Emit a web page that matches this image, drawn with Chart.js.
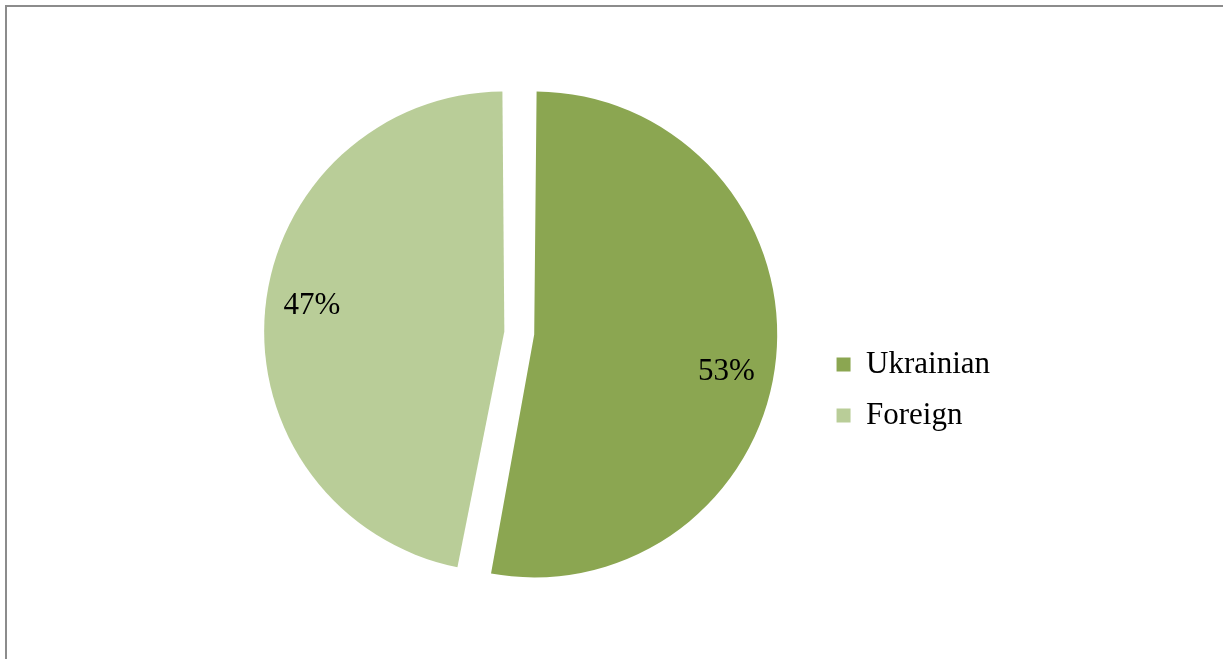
<!DOCTYPE html>
<html>
<head>
<meta charset="utf-8">
<title>Ukrainian vs Foreign</title>
<script src="https://cdn.jsdelivr.net/npm/chart.js@4/dist/chart.umd.min.js"></script>
<style>
    html, body { margin: 0; padding: 0; background: #fff; overflow: hidden; }
    #frame {
        position: absolute; left: 5px; top: 5px; width: 1400px; height: 800px;
        border-top: 2px solid #8c8c8c; border-left: 2px solid #8c8c8c;
    }
    #wrap { position: absolute; left: 0; top: 0; width: 1223px; height: 659px; }
</style>
</head>
<body>
<div id="frame"></div>
<div id="wrap"><canvas id="pieChart"></canvas></div>
<script>
const categories = ['Ukrainian', 'Foreign'];
const shares = [53, 47];
const sliceColors = ['#8ba651', '#b9cd98'];

Chart.defaults.font.family = '"Liberation Serif", "Times New Roman", serif';
Chart.defaults.color = '#000';

// percentage labels inside each slice, pushed a little clockwise like the office chart
const pctLabels = {
    id: 'pctLabels',
    afterDatasetsDraw(chart) {
        const { ctx } = chart;
        const total = shares.reduce((a, b) => a + b, 0);
        ctx.save();
        ctx.font = '31px "Liberation Serif", "Times New Roman", serif';
        ctx.fillStyle = '#000';
        ctx.textAlign = 'center';
        ctx.textBaseline = 'middle';
        chart.getDatasetMeta(0).data.forEach((arc, i) => {
            const { x, y, startAngle, endAngle, outerRadius } =
                arc.getProps(['x', 'y', 'startAngle', 'endAngle', 'outerRadius'], true);
            const half = (startAngle + endAngle) / 2;
            const shift = arc.options.offset / 4;
            const cx = x + Math.cos(half) * shift;
            const cy = y + Math.sin(half) * shift;
            const a = half + 0.07;
            const r = outerRadius * 0.855;
            ctx.fillText(Math.round(shares[i] / total * 100) + '%', cx + Math.cos(a) * r, cy + Math.sin(a) * r + 6);
        });
        ctx.restore();
    }
};

new Chart(document.getElementById('pieChart'), {
    type: 'pie',
    data: {
        labels: categories,
        datasets: [{
            data: shares,
            backgroundColor: sliceColors,
            borderWidth: 0,
            offset: 60,
            hoverOffset: 0
        }]
    },
    options: {
        responsive: true,
        maintainAspectRatio: false,
        animation: false,
        events: [],
        layout: { padding: { left: 222, right: 223, top: 75, bottom: 68 } },
        plugins: {
            tooltip: { enabled: false },
            legend: {
                position: 'right',
                // empty title only pushes the legend entries down a bit
                title: { display: true, text: '', font: { size: 10, lineHeight: 1 }, padding: { top: 104, bottom: 0 } },
                labels: {
                    boxWidth: 14,
                    boxHeight: 14,
                    padding: 20,
                    color: '#000',
                    font: { size: 31 }
                }
            }
        }
    },
    plugins: [pctLabels]
});
</script>
</body>
</html>
